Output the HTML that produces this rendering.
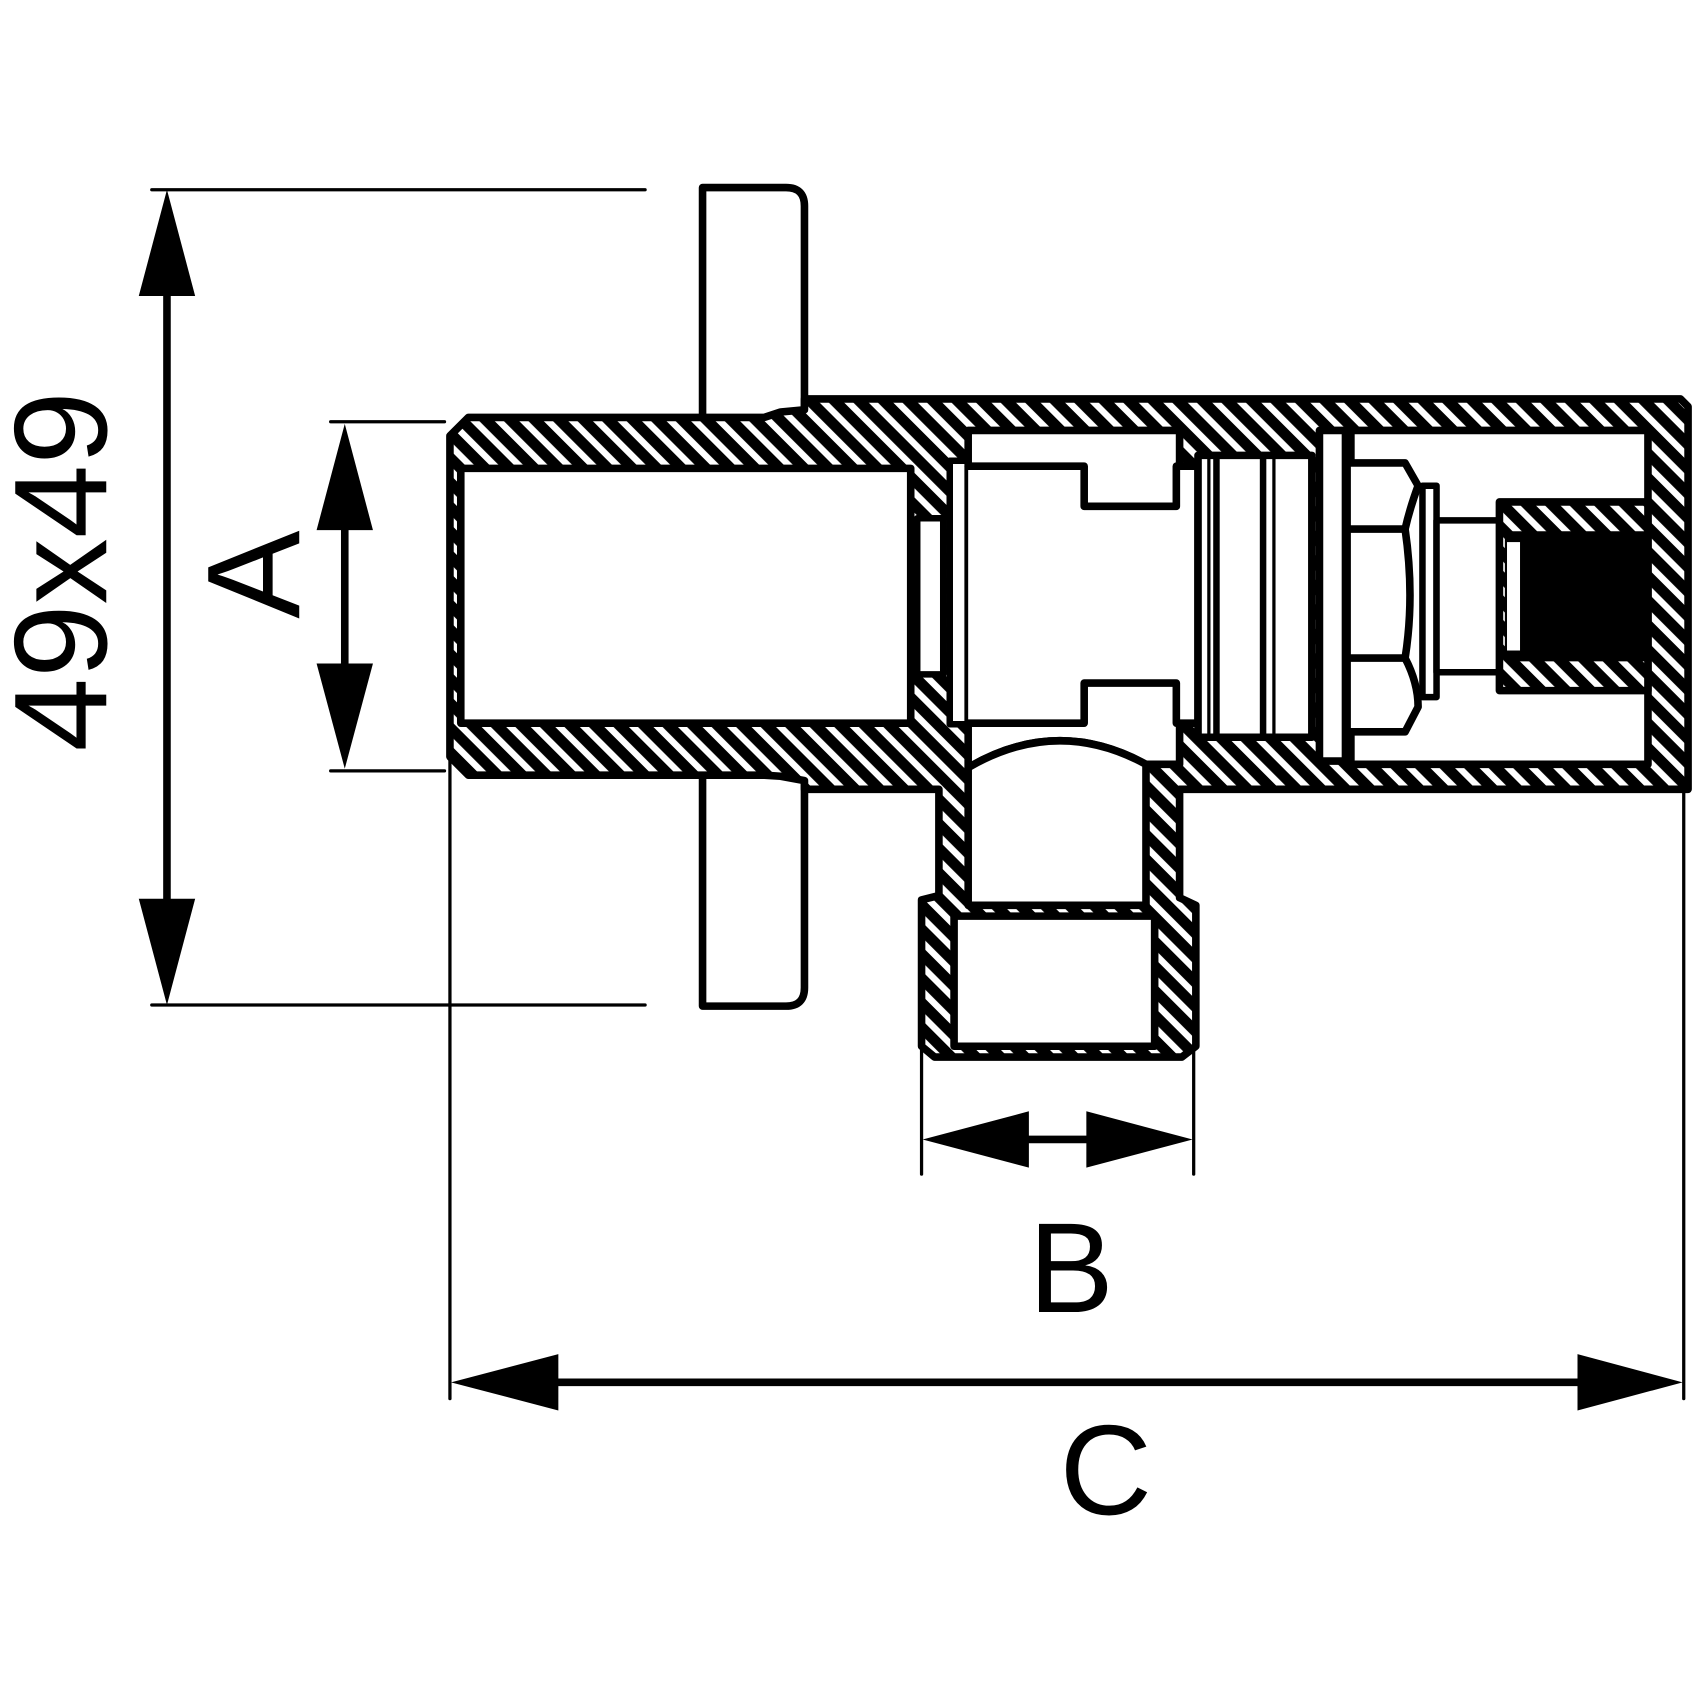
<!DOCTYPE html>
<html><head><meta charset="utf-8"><style>html,body{margin:0;padding:0;background:#fff}svg{display:block}</style></head>
<body>
<svg width="1700" height="1700" viewBox="0 0 1568 1568" xmlns="http://www.w3.org/2000/svg">
<defs>
<pattern id="h" patternUnits="userSpaceOnUse" width="16" height="16" patternTransform="rotate(-45)">
<rect width="16" height="16" fill="#000"/><rect x="0" y="0" width="6" height="16" fill="#fff"/>
</pattern>
</defs>
<g stroke="#000" stroke-linejoin="round" stroke-linecap="round">
<!-- dimension 49x49 -->
<line x1="140" y1="175" x2="595" y2="175" stroke-width="3"/>
<line x1="140" y1="927" x2="595" y2="927" stroke-width="3"/>
<line x1="154" y1="260" x2="154" y2="840" stroke-width="7"/>
<polygon points="154,175 128,273 180,273" fill="#000" stroke="none"/>
<polygon points="154,927 128,829 180,829" fill="#000" stroke="none"/>
<!-- A -->
<line x1="305" y1="389" x2="410" y2="389" stroke-width="3"/>
<line x1="305" y1="711" x2="410" y2="711" stroke-width="3"/>
<line x1="318" y1="480" x2="318" y2="620" stroke-width="7"/>
<polygon points="318,391 292,489 344,489" fill="#000" stroke="none"/>
<polygon points="318,709 292,612 344,612" fill="#000" stroke="none"/>
<!-- B -->
<line x1="850" y1="965" x2="850" y2="1083" stroke-width="3"/>
<line x1="1101" y1="965" x2="1101" y2="1083" stroke-width="3"/>
<line x1="940" y1="1051" x2="1010" y2="1051" stroke-width="7"/>
<polygon points="851,1051 949,1025 949,1077" fill="#000" stroke="none"/>
<polygon points="1100,1051 1002,1025 1002,1077" fill="#000" stroke="none"/>
<!-- C -->
<line x1="415" y1="690" x2="415" y2="1290" stroke-width="3"/>
<line x1="1553" y1="730" x2="1553" y2="1290" stroke-width="3"/>
<line x1="505" y1="1275" x2="1465" y2="1275" stroke-width="7"/>
<polygon points="416,1275 515,1249 515,1301" fill="#000" stroke="none"/>
<polygon points="1552,1275 1455,1249 1455,1301" fill="#000" stroke="none"/>

<!-- handles -->
<path d="M648,385 V173 H725 Q742,173 742,190 V378" fill="#fff" stroke-width="7"/>
<path d="M648,715 V928 H725 Q742,928 742,911 V722" fill="#fff" stroke-width="7"/>

<!-- body -->
<path d="M432,385 H705 L720,380 L742,378 V368 H1550 L1557,375 V728 H1088 V828 L1103,835 V965 L1090,975 H862 L850,965 V830 L866,826 V728 H742 V720 L720,716 L705,715 H432 L415,698 V402 Z" fill="url(#h)" stroke-width="7"/>

<!-- tube bore -->
<rect x="425" y="432" width="415" height="235" fill="#fff" stroke-width="7"/>
<!-- left ring -->
<rect x="846" y="478" width="24" height="144" fill="#fff" stroke-width="6"/>
<rect x="876" y="425" width="17" height="243" fill="#fff" stroke-width="6"/>
<!-- main chamber -->
<path d="M893,397 H1088 V705 H1057 Q975,660 893,708 Z" fill="#fff" stroke-width="7"/>
<!-- spool -->
<path d="M893,430 H1000 V467 H1085 V430 H1105 V667 H1085 V630 H1000 V667 H893" fill="#fff" stroke-width="7"/>
<!-- ring pack -->
<rect x="1105" y="420" width="105" height="260" fill="#fff" stroke-width="7"/>
<line x1="1115" y1="420" x2="1115" y2="680" stroke-width="3"/>
<line x1="1122" y1="420" x2="1122" y2="680" stroke-width="6"/>
<line x1="1165" y1="420" x2="1165" y2="680" stroke-width="6"/>
<line x1="1175" y1="420" x2="1175" y2="680" stroke-width="3"/>
<rect x="1217" y="397" width="24" height="305" fill="#fff" stroke-width="7"/>
<!-- right chamber -->
<rect x="1246" y="397" width="274" height="308" fill="#fff" stroke-width="7"/>
<!-- nut -->
<path d="M1246,427 H1296 L1308,448 Q1300,470 1296,488 Q1305,550 1296,607 Q1308,630 1308,652 L1296,675 H1246" fill="#fff" stroke-width="7"/>
<line x1="1246" y1="488" x2="1296" y2="488" stroke-width="7"/>
<line x1="1246" y1="607" x2="1296" y2="607" stroke-width="7"/>
<rect x="1312" y="448" width="13" height="195" fill="#fff" stroke-width="6"/>
<rect x="1325" y="480" width="60" height="140" fill="#fff" stroke-width="6"/>
<!-- cap -->
<path d="M1383,463 H1520 V637 H1383 Z" fill="url(#h)" stroke-width="7"/>
<rect x="1388" y="490" width="132" height="120" fill="#000" stroke="none"/>
<rect x="1390" y="500" width="12" height="100" fill="#fff" stroke="none"/>
<!-- stem cavities -->
<path d="M893,708 Q975,660 1057,705 V835 H893 Z" fill="#fff" stroke-width="7"/>
<rect x="880" y="845" width="185" height="120" fill="#fff" stroke-width="7"/>
</g>
<g font-family="Liberation Sans, sans-serif" fill="#000" text-anchor="middle">
<text x="0" y="0" font-size="122" transform="translate(98,527) rotate(-90)">49x49</text>
<text x="0" y="0" font-size="122" transform="translate(276,530) rotate(-90)">A</text>
<text x="988" y="1210" font-size="118">B</text>
<text x="1020" y="1397" font-size="118">C</text>
</g>
</svg>
</body></html>
